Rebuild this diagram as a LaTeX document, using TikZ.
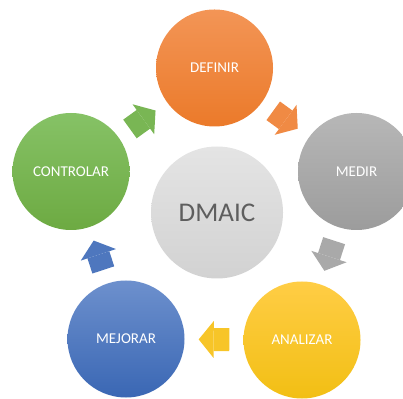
\documentclass[tikz,border=0pt]{standalone}
\usepackage{fontspec}
\setmainfont{Carlito}
\usepackage{tikz}
\usetikzlibrary{arrows.meta,positioning}

\definecolor{defTop}{HTML}{F39556}
\definecolor{defBot}{HTML}{EB7A2A}
\definecolor{medTop}{HTML}{B7B7B7}
\definecolor{medBot}{HTML}{9C9C9C}
\definecolor{anaTop}{HTML}{FFCD45}
\definecolor{anaBot}{HTML}{F2BF14}
\definecolor{mejTop}{HTML}{6D90CD}
\definecolor{mejBot}{HTML}{3A67B4}
\definecolor{conTop}{HTML}{86C266}
\definecolor{conBot}{HTML}{6DAA42}
\definecolor{midTop}{HTML}{E4E4E4}
\definecolor{midBot}{HTML}{D2D2D2}
\definecolor{midText}{HTML}{5E5E5E}

\tikzset{
  stage/.style={circle, minimum size=117pt, inner sep=0pt, text=white,
    font=\fontsize{15}{18}\selectfont},
  hub/.style={circle, minimum size=132pt, inner sep=0pt, text=midText,
    top color=midTop, bottom color=midBot, font=\fontsize{27}{32}\selectfont},
  cyclearrow/.style={line width=23pt,
    -{Triangle[length=15pt,width=37pt,line width=0pt]},
    shorten <=14pt, shorten >=14pt},
}

\begin{document}
\begin{tikzpicture}[x=1pt,y=1pt]
\useasboundingbox (0,0) rectangle (403,398);
\clip (0,0) rectangle (403,398);
\node[hub] (dmaic) at (217,185.5) {DMAIC};
\node[stage, top color=defTop, bottom color=defBot] (definir) at (214.5,330) {DEFINIR};
\node[stage, top color=medTop, bottom color=medBot] (medir) at (356.5,226.5) {MEDIR};
\node[stage, top color=anaTop, bottom color=anaBot] (analizar) at (302,58) {ANALIZAR};
\node[stage, top color=mejTop, bottom color=mejBot] (mejorar) at (126,59) {MEJORAR};
\node[stage, top color=conTop, bottom color=conBot] (controlar) at (71,226.5) {CONTROLAR};
\draw[cyclearrow, color=defTop!60!defBot] (definir) -- (medir);
\draw[cyclearrow, color=medTop!50!medBot] (medir) -- (analizar);
\draw[cyclearrow, color=anaTop!40!anaBot] (analizar) -- (mejorar);
\draw[cyclearrow, color=mejTop!40!mejBot] (mejorar) -- (controlar);
\draw[cyclearrow, color=conTop!50!conBot] (controlar) -- (definir);
\end{tikzpicture}
\end{document}
